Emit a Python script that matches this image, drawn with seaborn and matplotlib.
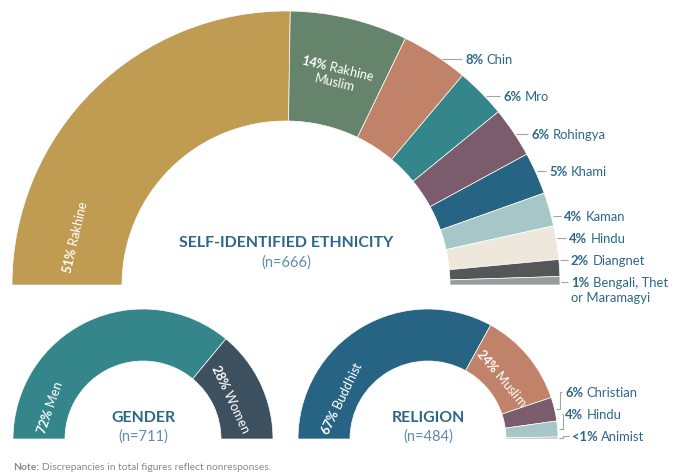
import numpy as np
import pandas as pd
import seaborn as sns
import matplotlib.pyplot as plt

# ---- data ----
eth_names = ['Rakhine', 'Rakhine\nMuslim', 'Chin', 'Mro', 'Rohingya', 'Khami',
             'Kaman', 'Hindu', 'Diangnet', 'Bengali, Thet\nor Maramagyi']
eth_pct = [51, 14, 8, 6, 6, 5, 4, 4, 2, 1]
eth_pct_text = ['51%', '14%', '8%', '6%', '6%', '5%', '4%', '4%', '2%', '1%']

gender_names = ['Men', 'Women']
gender_pct = [72, 28]
gender_pct_text = ['72%', '28%']

rel_names = ['Buddhist', 'Muslim', 'Christian', 'Hindu', 'Animist']
rel_pct = [67, 24, 6, 4, 0.5]
rel_pct_text = ['67%', '24%', '6%', '4%', '<1%']

eth_colors = ['#C09B52', '#66836C', '#C0836A', '#35868A', '#7A5C6C',
              '#276483', '#A6C6C8', '#EEE8DC', '#555658', '#9A9B9D']
gender_colors = ['#35868A', '#3D5060']
rel_colors = ['#276483', '#C0836A', '#7A5C6C', '#A6C6C8', '#B4B6B8']

# ---- style ----
sns.set_theme(style='white')
plt.rcParams['font.family'] = ['Lato', 'DejaVu Sans']
plt.rcParams['mathtext.fontset'] = 'custom'
plt.rcParams['mathtext.rm'] = 'Lato'
plt.rcParams['mathtext.it'] = 'Lato:italic'
plt.rcParams['mathtext.bf'] = 'Lato:bold'

W, H = 677, 477
BLUE = '#2C6788'
NBLUE = '#5F8CAB'
LINE = '#A3A3A3'
OUT_SIZE = 9.4
IN_SIZE = 9.2


def Y(py):
    # pixel row -> data y
    return H - py


def math_label(pct, name):
    return r'$\mathbf{' + pct.replace('%', r'\%') + '}$ ' + name


def half_donut(ax, vals, colors, cx, cy, R, r):
    wedges, _ = ax.pie(list(vals) + [sum(vals)], colors=list(colors) + ['white'],
                       startangle=180, counterclock=False,
                       center=(cx, Y(cy)), radius=R, frame=True,
                       wedgeprops=dict(width=R - r, edgecolor='white', linewidth=0.5))
    wedges[-1].set_visible(False)
    return wedges[:-1]


def put_inside(ax, text, w, cx, cy, rad, ang=None, size=IN_SIZE):
    if ang is None:
        ang = (w.theta1 + w.theta2) / 2
    t = np.radians(ang)
    ax.text(cx + rad * np.cos(t), Y(cy) + rad * np.sin(t), text,
            rotation=ang - 90, rotation_mode='anchor', ha='center', va='center',
            color='white', fontsize=size, linespacing=1.15)


def put_outside(ax, pct, name, w, cx, cy, R, lx, ly, size=OUT_SIZE):
    cyd, lyd = Y(cy), Y(ly)
    dy = lyd - cyd
    pts = None
    if 0 <= dy < R:
        th = np.degrees(np.arcsin(dy / R))
        if w.theta1 + 0.1 <= th <= w.theta2 - 0.1:
            x0 = cx + R * np.cos(np.radians(th)) + 1.5
            pts = [(x0, lyd), (lx - 3, lyd)]
    if pts is None:
        mid = np.radians((w.theta1 + w.theta2) / 2)
        x0 = cx + (R + 1.5) * np.cos(mid)
        y0 = cyd + R * np.sin(mid)
        xb = x0 + 4
        pts = [(x0, y0), (xb, y0), (xb, lyd), (lx - 3, lyd)]
    xs, ys = zip(*pts)
    ax.plot(xs, ys, color=LINE, lw=0.8, solid_capstyle='butt')

    lines = name.split('\n')
    t1 = ax.text(lx, lyd, pct, ha='left', va='center', color=BLUE,
                 fontsize=size, fontweight='bold')
    ax.annotate(lines[0], xy=(1, 1), xycoords=t1, xytext=(2.5, 0),
                textcoords='offset points', ha='left', va='top',
                color=BLUE, fontsize=size)
    for k, extra in enumerate(lines[1:], start=1):
        ax.annotate(extra, xy=(0, 1), xycoords=t1, xytext=(0, -k * size * 1.12),
                    textcoords='offset points', ha='left', va='top',
                    color=BLUE, fontsize=size)


fig = plt.figure(figsize=(W / 100, H / 100), dpi=100)
ax = fig.add_axes([0, 0, 1, 1])

# ---- ethnicity ----
ecx, ecy, eR, er = 286, 286, 274, 164
ew = half_donut(ax, eth_pct, eth_colors, ecx, ecy, eR, er)
put_inside(ax, math_label(eth_pct_text[0], eth_names[0]), ew[0], ecx, ecy, 217, ang=167)
put_inside(ax, math_label(eth_pct_text[1], eth_names[1]), ew[1], ecx, ecy, 217)
eth_label_pos = [(465, 60), (503, 97), (531, 135), (549, 172), (564, 217),
                 (569, 239), (571, 261), (571, 283)]
for i, (lx, ly) in enumerate(eth_label_pos, start=2):
    put_outside(ax, eth_pct_text[i], eth_names[i], ew[i], ecx, ecy, eR, lx, ly)
ax.text(ecx, Y(243), 'SELF-IDENTIFIED ETHNICITY', ha='center', va='center',
        color=BLUE, fontsize=11.4, fontweight='bold')
ax.text(ecx, Y(263), '(n=666)', ha='center', va='center', color=NBLUE,
        fontsize=10.5)

# ---- gender ----
gcx, gcy, gR, gr = 143, 440, 130, 78
gw = half_donut(ax, gender_pct, gender_colors, gcx, gcy, gR, gr)
put_inside(ax, math_label(gender_pct_text[0], gender_names[0]), gw[0], gcx, gcy, 99, ang=161)
put_inside(ax, math_label(gender_pct_text[1], gender_names[1]), gw[1], gcx, gcy, 97)
ax.text(gcx, Y(418), 'GENDER', ha='center', va='center', color=BLUE,
        fontsize=11.4, fontweight='bold')
ax.text(gcx, Y(437), '(n=711)', ha='center', va='center', color=NBLUE,
        fontsize=10.5)

# ---- religion ----
rcx, rcy, rR, rr = 428, 440, 130, 78
rw = half_donut(ax, rel_pct, rel_colors, rcx, rcy, rR, rr)
put_inside(ax, math_label(rel_pct_text[0], rel_names[0]), rw[0], rcx, rcy, 97, ang=154)
put_inside(ax, math_label(rel_pct_text[1], rel_names[1]), rw[1], rcx, rcy, 97)
rel_label_pos = [(565, 393), (565, 415), (572, 437)]
for i, (lx, ly) in enumerate(rel_label_pos, start=2):
    put_outside(ax, rel_pct_text[i], rel_names[i], rw[i], rcx, rcy, rR, lx, ly)
ax.text(rcx, Y(418), 'RELIGION', ha='center', va='center', color=BLUE,
        fontsize=11.4, fontweight='bold')
ax.text(rcx, Y(437), '(n=484)', ha='center', va='center', color=NBLUE,
        fontsize=10.5)

# ---- note ----
note = ax.text(13, Y(468), 'Note:', ha='left', va='center', color='#8A8A8A',
               fontsize=7.4, fontweight='bold')
ax.annotate('Discrepancies in total figures reflect nonresponses.', xy=(1, 1),
            xycoords=note, xytext=(2, 0), textcoords='offset points',
            ha='left', va='top', color='#8A8A8A', fontsize=7.4)

ax.set_xlim(0, W)
ax.set_ylim(0, H)
ax.set_aspect('equal')
ax.axis('off')

fig.savefig('out.png', dpi=100)
plt.close(fig)
